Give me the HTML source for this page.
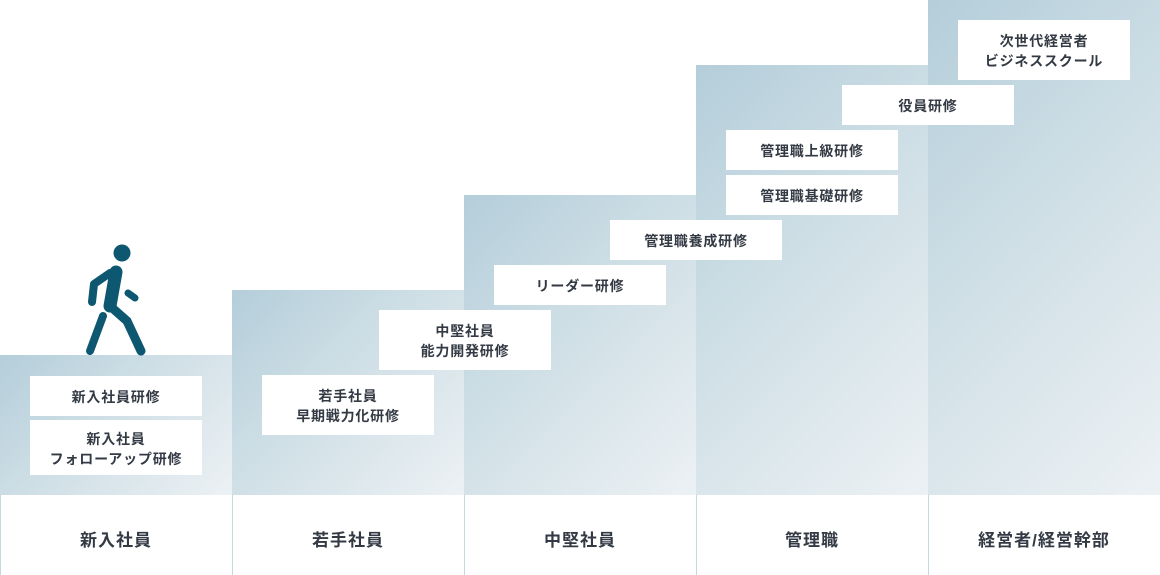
<!DOCTYPE html>
<html><head><meta charset="utf-8"><style>
html,body{margin:0;padding:0;background:#fff;}
#w{position:relative;width:1160px;height:575px;overflow:hidden;font-family:"Liberation Sans","Noto Sans CJK JP",sans-serif;color:#333a44;}
.col{position:absolute;width:232px;background:linear-gradient(135deg,#b4ceda 0%,#cfdfe6 45%,#ecf1f4 100%);}
.lab{position:absolute;top:495px;height:80px;width:231px;background:#fff;border-left:1px solid #c6d7df;display:flex;align-items:center;justify-content:center;font-size:17px;font-weight:bold;padding-top:6px;box-sizing:border-box;letter-spacing:1px;}
.b{position:absolute;width:172px;background:#fff;display:flex;align-items:center;justify-content:center;text-align:center;font-size:14px;font-weight:bold;line-height:20px;z-index:2;letter-spacing:0.8px;padding-top:2px;box-sizing:border-box;}
</style></head><body><div id="w">
<div class="col" style="left:0;top:355px;height:140px"></div>
<div class="col" style="left:232px;top:290px;height:205px"></div>
<div class="col" style="left:464px;top:195px;height:300px"></div>
<div class="col" style="left:696px;top:65px;height:430px"></div>
<div class="col" style="left:928px;top:0;height:495px"></div>
<div class="lab" style="left:0">新入社員</div>
<div class="lab" style="left:232px">若手社員</div>
<div class="lab" style="left:464px">中堅社員</div>
<div class="lab" style="left:696px">管理職</div>
<div class="lab" style="left:928px">経営者/経営幹部</div>
<div class="b" style="left:30px;top:376px;height:40px">新入社員研修</div>
<div class="b" style="left:30px;top:420px;height:55px">新入社員<br>フォローアップ研修</div>
<div class="b" style="left:262px;top:375px;height:60px">若手社員<br>早期戦力化研修</div>
<div class="b" style="left:379px;top:310px;height:60px">中堅社員<br>能力開発研修</div>
<div class="b" style="left:494px;top:265px;height:40px">リーダー研修</div>
<div class="b" style="left:610px;top:220px;height:40px">管理職養成研修</div>
<div class="b" style="left:726px;top:175px;height:40px">管理職基礎研修</div>
<div class="b" style="left:726px;top:130px;height:40px">管理職上級研修</div>
<div class="b" style="left:842px;top:85px;height:40px">役員研修</div>
<div class="b" style="left:958px;top:20px;height:60px">次世代経営者<br>ビジネススクール</div>
<svg style="position:absolute;left:0;top:0" width="200" height="360">
<g stroke="#0d5770" stroke-linecap="round" stroke-linejoin="round" fill="none">
<circle cx="122" cy="253" r="8.5" fill="#0d5770" stroke="none"/>
<path d="M116 272 L110 306" stroke-width="13"/>
<path d="M110 273 L94 284 L92 302" stroke-width="8"/>
<path d="M128 293 L135 298" stroke-width="7"/>
<path d="M103 316 L90 351" stroke-width="8"/>
<path d="M110 306 L127 321 L141 351" stroke-width="9"/>
</g></svg>
</div></body></html>
